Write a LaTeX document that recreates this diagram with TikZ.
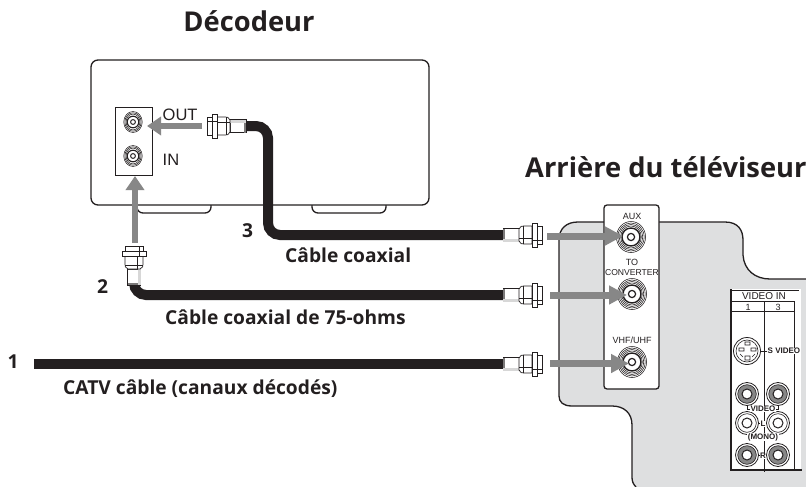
\documentclass[tikz,border=0pt]{standalone}
\usepackage{fontspec}
\usetikzlibrary{arrows.meta}
\setmainfont{Open Sans}
\newfontfamily\lab{Liberation Sans}
\definecolor{tvgrey}{RGB}{222,223,224}
\definecolor{arrowgrey}{RGB}{135,135,135}
\definecolor{inkc}{RGB}{35,31,32}
\tikzset{
  title/.style={font=\fontsize{27.3}{30}\selectfont\bfseries,text=inkc,inner sep=0pt},
  cablelabel/.style={font=\fontsize{19.2}{22}\selectfont\bfseries,text=inkc,inner sep=0pt,anchor=base west},
  tiny/.style={font=\lab\fontsize{9}{9}\selectfont,text=inkc,inner sep=0pt},
  tinyb/.style={font=\lab\fontsize{8}{8}\selectfont\bfseries,text=inkc,inner sep=0pt,fill=white,inner xsep=0.5pt},
  cable/.style={line width=10pt,draw=inkc,rounded corners=12pt},
  flowtv/.style={draw=arrowgrey,line width=7pt,-{Triangle[length=18pt,width=18pt]}},
  flowdec/.style={draw=arrowgrey,line width=6pt,-{Triangle[length=14pt,width=18pt]}},
  edge/.style={draw=inkc,line width=1.3pt},
  plug/.pic={
    \draw[inkc,fill=white,line width=.6pt] (0,-6.5) rectangle (16,6.5);
    \fill[inkc!60] (0,-6.5) rectangle (2,6.5);
    \fill[inkc!18] (0,3.5) rectangle (16,6.5);
    \draw[inkc,fill=white,line width=.7pt] (16,-6)..controls (17,-9) and (19,-9) .. (21,-9)--(29,-9)--(29,9)--(21,9)..controls (19,9) and (17,9) .. (16,6)--cycle;
    \draw[inkc,line width=.45pt] (20,-9)--(20,9) (16,3.5)--(29,3.5);
    \draw[inkc,fill=white,line width=.7pt] (29,-12) rectangle (34,12);
    \draw[inkc,fill=white,line width=.7pt] (34,-9) rectangle (39,9);
    \draw[inkc,line width=.45pt] (29,5)--(39,5);
  },
  bigjack/.pic={
    \foreach \r in {15.5,14,12.5,11}{\draw[inkc,fill=white,line width=.55pt] (0,0) ellipse ({\r*.94} and \r);}
    \draw[inkc,fill=white,line width=1.4pt] (0,0) circle (9);
    \draw[inkc,fill=white,line width=1.2pt] (0,0) circle (3.6);
  },
  smalljack/.pic={
    \foreach \r in {10.5,9.2,7.9}{\draw[inkc,fill=white,line width=.55pt] (0,0) ellipse ({\r*.88} and \r);}
    \draw[inkc,fill=white,line width=1.1pt] (0,0) circle (5.8);
    \draw[inkc,fill=white,line width=1pt] (0,0) circle (2.4);
  },
  rcagrey/.pic={
    \draw[inkc,fill=white,line width=.8pt] (0,0) circle (11.5);
    \draw[inkc,fill=arrowgrey,line width=.6pt] (0,0) circle (9.3);
    \draw[inkc,fill=white,line width=1pt] (0,0) circle (5);
  },
  rcawhite/.pic={
    \draw[inkc,fill=white,line width=.8pt] (0,0) circle (11.5);
    \draw[inkc,fill=white,line width=.6pt] (0,0) circle (9.3);
    \draw[inkc,fill=white,line width=1pt] (0,0) circle (5);
  },
}
\begin{document}
\begin{tikzpicture}[x=1pt,y=-1pt]
\useasboundingbox (0,0) rectangle (806,487);
% titles
\node[title,anchor=base] (tdec) at (249,32) {Décodeur};
\node[title,anchor=base west] (ttv) at (525,177) {Arrière du téléviseur};
% decoder
\draw[edge,rounded corners=6pt] (137,205)--(137,213)--(211,213)--(211,205);
\draw[edge,rounded corners=6pt] (312,205)--(312,213)--(386,213)--(386,205);
\draw[edge,fill=white,rounded corners=7pt] (91,60) rectangle (429,205);
\draw[inkc,fill=white,line width=.6pt] (115,107) rectangle (152,175);
\pic at (133,122) {smalljack};
\pic at (133,156) {smalljack};
\node[tiny,font=\lab\fontsize{16.5}{17}\selectfont,anchor=base west] (lout) at (162.5,121) {OUT};
\node[tiny,font=\lab\fontsize{16.5}{17}\selectfont,anchor=base west] (lin) at (162.5,165) {IN};
% TV back
\fill[tvgrey] (559,240) .. controls (559,228) and (567,222) .. (578,222) -- (725,222)
  .. controls (738,222) and (743,230) .. (743,240) -- (743,255) .. controls (744,270) and (755,279) .. (770,279)
  -- (806,279) -- (806,487) -- (636,487) .. controls (633,484) and (632,481) .. (632,477) -- (632,425)
  .. controls (632,413) and (624,406) .. (612,406) -- (572,406) .. controls (563,406) and (559,402) .. (559,396) -- cycle;
\draw[edge] (636,487) .. controls (633,484) and (632,481) .. (632,477) -- (632,425)
  .. controls (632,413) and (624,406) .. (612,406) -- (572,406) .. controls (563,406) and (559,402) .. (559,396)
  -- (559,240) .. controls (559,228) and (567,222) .. (578,222) -- (725,222)
  .. controls (738,222) and (743,230) .. (743,240) -- (743,255) .. controls (744,270) and (755,279) .. (770,279)
  -- (806,279);
\draw[edge,fill=white,rounded corners=3pt] (604,205) rectangle (659,389);
\node[tiny,anchor=base] (laux) at (632,219) {AUX};
\node[tiny,anchor=base] (lto) at (632,265) {TO};
\node[tiny,font=\lab\fontsize{8.6}{9}\selectfont,anchor=base] (lconv) at (632,275) {CONVERTER};
\node[tiny,anchor=base] (lvhf) at (632,343) {VHF/UHF};
\pic at (631,237) {bigjack};
\pic at (632,294) {bigjack};
\pic at (632,362) {bigjack};
% video in
\fill[white] (730,289) rectangle (801,470);
\draw[edge] (731,289)--(731,470)--(802,470);
\draw[inkc,line width=.9pt] (731,290)--(799,290);
\draw[inkc,line width=.7pt] (731,301)--(794,301)--(794,470);
\draw[inkc,line width=.7pt] (731,311)--(794,311);
\draw[inkc,line width=.8pt] (764,301)--(764,472);
\node[tiny,font=\lab\fontsize{10}{11}\selectfont,anchor=base,fill=white] (lvi) at (764,299) {VIDEO IN};
\node[tiny,anchor=base] (l1) at (748,310) {1};
\node[tiny,anchor=base] (l3) at (778,310) {3};
\draw[inkc,fill=white,line width=.8pt] (747,351) circle (13.5);
\draw[inkc,fill=white,line width=.6pt] (747,351) circle (11);
\draw[inkc,line width=.6pt] (745,342) rectangle (750,345) (739,348) rectangle (744,351) (751,348) rectangle (756,351) (745,356) rectangle (750,360) (740,354)--(743,357) (755,354)--(752,357);
\draw[inkc,line width=.6pt] (760,351)--(767,351);
\node[tinyb,anchor=west] (lsv) at (767,351) {S VIDEO};
\pic at (747,394) {rcagrey};
\pic at (778,394) {rcagrey};
\pic at (747,423) {rcawhite};
\pic at (778,423) {rcawhite};
\pic at (747,455) {rcagrey};
\pic at (778,455) {rcagrey};
\draw[inkc,line width=.7pt] (747,405)--(747,409)--(778,409)--(778,405);
\draw[inkc,line width=.7pt] (758,423)--(767,423) (758,455)--(767,455);
\node[tinyb] (lvid) at (763,409) {VIDEO};
\node[tinyb] (ll) at (763,424) {L};
\node[tinyb] (lmono) at (763,437) {(MONO)};
\node[tinyb] (lr) at (763,456) {R};
% cables
\coordinate (c1a) at (34,364);
\coordinate (c1b) at (503,364);
\coordinate (c2a) at (134,285);
\coordinate (c2b) at (503,295);
\coordinate (c3a) at (246,126);
\coordinate (c3b) at (503,235);
\draw[cable,rounded corners=0pt] (c1a)--(c1b);
\draw[cable] (c2a)--(134,295)--(c2b);
\draw[cable] (c3a)--(268,126)--(268,235)--(c3b);
\pic at (c1b) {plug};
\pic at (c2b) {plug};
\pic at (c3b) {plug};
\pic[rotate=180] at (c3a) {plug};
\pic[rotate=90] at (c2a) {plug};
% arrows
\coordinate (a1s) at (550,363.5); \coordinate (a1e) at (629,363.5);
\coordinate (a2s) at (550,295); \coordinate (a2e) at (627,295);
\coordinate (a3s) at (547,236); \coordinate (a3e) at (623,236);
\coordinate (a4s) at (202,126); \coordinate (a4e) at (147,126);
\coordinate (a5s) at (135,243); \coordinate (a5e) at (135,176);
\draw[flowtv] (a1s)--(a1e);
\draw[flowtv] (a2s)--(a2e);
\draw[flowtv] (a3s)--(a3e);
\draw[flowdec] (a4s)--(a4e);
\draw[flowdec] (a5s)--(a5e);
% labels
\node[cablelabel] (n3) at (242,237) {3};
\node[cablelabel] (n2) at (97,293) {2};
\node[cablelabel] (n1) at (7.5,368) {1};
\node[cablelabel] (lc3) at (285,262) {Câble coaxial};
\node[cablelabel] (lc2) at (165,324) {Câble coaxial de 75-ohms};
\node[cablelabel] (lc1) at (63,394) {CATV câble (canaux décodés)};
\end{tikzpicture}
\end{document}
